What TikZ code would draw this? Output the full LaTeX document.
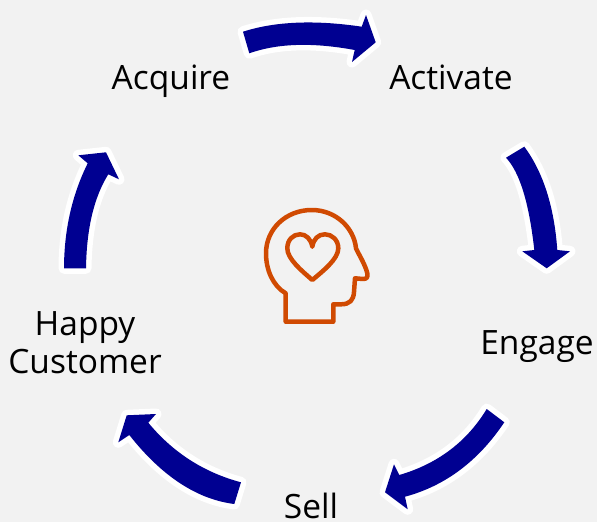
\documentclass[tikz,border=0pt]{standalone}
\usepackage{fontspec}
\setmainfont{Open Sans}
\definecolor{bgc}{HTML}{F2F2F2}
\definecolor{arrowblue}{HTML}{000091}
\definecolor{headorange}{HTML}{D04A02}
\tikzset{
  x=1pt,y=-1pt,
  arrowfill/.style={fill=arrowblue},
  stage/.style={font=\fontsize{33.5}{38}\selectfont,text=black,inner sep=0pt,anchor=base,align=center},
  iconline/.style={draw=headorange,line width=4.5pt,line join=round}
}
\newcommand{\bluearrow}[1]{%
  \draw[draw=white,line width=11pt,line join=round,line cap=round] #1;
  \fill[arrowfill] #1;}
\begin{document}
\begin{tikzpicture}
\useasboundingbox (0,0) rectangle (597,522);
\fill[bgc] (0,0) rectangle (597,522);
\bluearrow{(243,31.7) .. controls (275,21.4) and (314.5,19.7) .. (361.7,26.7) -- (366,15) -- (375.7,42.3) -- (352,62) -- (354.7,50) .. controls (312.5,42.2) and (277.4,43.3) .. (249.3,53.3) -- cycle}
\bluearrow{(524.3,146.7) .. controls (543.2,172.2) and (554.2,206.7) .. (557.3,250) -- (570,251.3) -- (546.7,268.3) -- (522.3,251.3) -- (534.3,250) .. controls (529.1,203) and (519.7,172.2) .. (506,157.7) -- cycle}
\bluearrow{(486.7,409) .. controls (466.9,441.7) and (437.8,463.7) .. (399.3,475) -- (394,464.3) -- (385,492.3) -- (407.7,509.3) -- (405,496.7) .. controls (445.2,485.9) and (478.3,461.1) .. (504.3,422.3) -- cycle}
\bluearrow{(241,482.3) .. controls (203.9,472.4) and (173,452.6) .. (148.3,422.7) -- (156,414) -- (126.7,415.3) -- (118.3,442.3) -- (129.3,435) .. controls (161.9,476.3) and (197,499.3) .. (234.3,504) -- cycle}
\bluearrow{(64,268.3) .. controls (64.1,230) and (72,195) .. (87.7,163.3) -- (78.3,155.3) -- (106,152.3) -- (119,179.3) -- (108.3,174.3) .. controls (94,197.2) and (86.6,228.4) .. (86,268.3) -- cycle}
\node[stage] (acquire) at (171,89) {Acquire};
\node[stage] (activate) at (451,89) {Activate};
\node[stage] (engage) at (537,354) {Engage};
\node[stage] (sell) at (311,518) {Sell};
\node[stage] (happy) at (85,335) {Happy};
\node[stage] (customer) at (85,373) {Customer};
\draw[iconline] (285.7,321.7) -- (285.7,293.3)
  .. controls (273,286) and (266,270) .. (266,253.3)
  .. controls (266,229) and (286,210) .. (311.7,210)
  .. controls (336,210) and (354,228) .. (356,248.3)
  .. controls (359,255) and (365,264) .. (367.3,273.3)
  .. controls (368,277) and (367,279) .. (363,279)
  -- (355,278.3) -- (354,292)
  .. controls (353.5,300) and (350,304.3) .. (341,304.3)
  -- (333.3,304.3) -- (333.3,321.7) -- cycle;
\draw[iconline] (312.3,280)
  .. controls (302,271) and (287.3,259) .. (287.3,248.3)
  .. controls (287.3,240) and (293,234.3) .. (300,234.3)
  .. controls (306,234.3) and (311,239) .. (312.3,246.7)
  .. controls (313.6,239) and (318,234.3) .. (325,234.3)
  .. controls (332,234.3) and (338.3,240) .. (338.3,248.3)
  .. controls (338.3,259) and (323,271) .. (312.3,280) -- cycle;
\end{tikzpicture}
\end{document}
